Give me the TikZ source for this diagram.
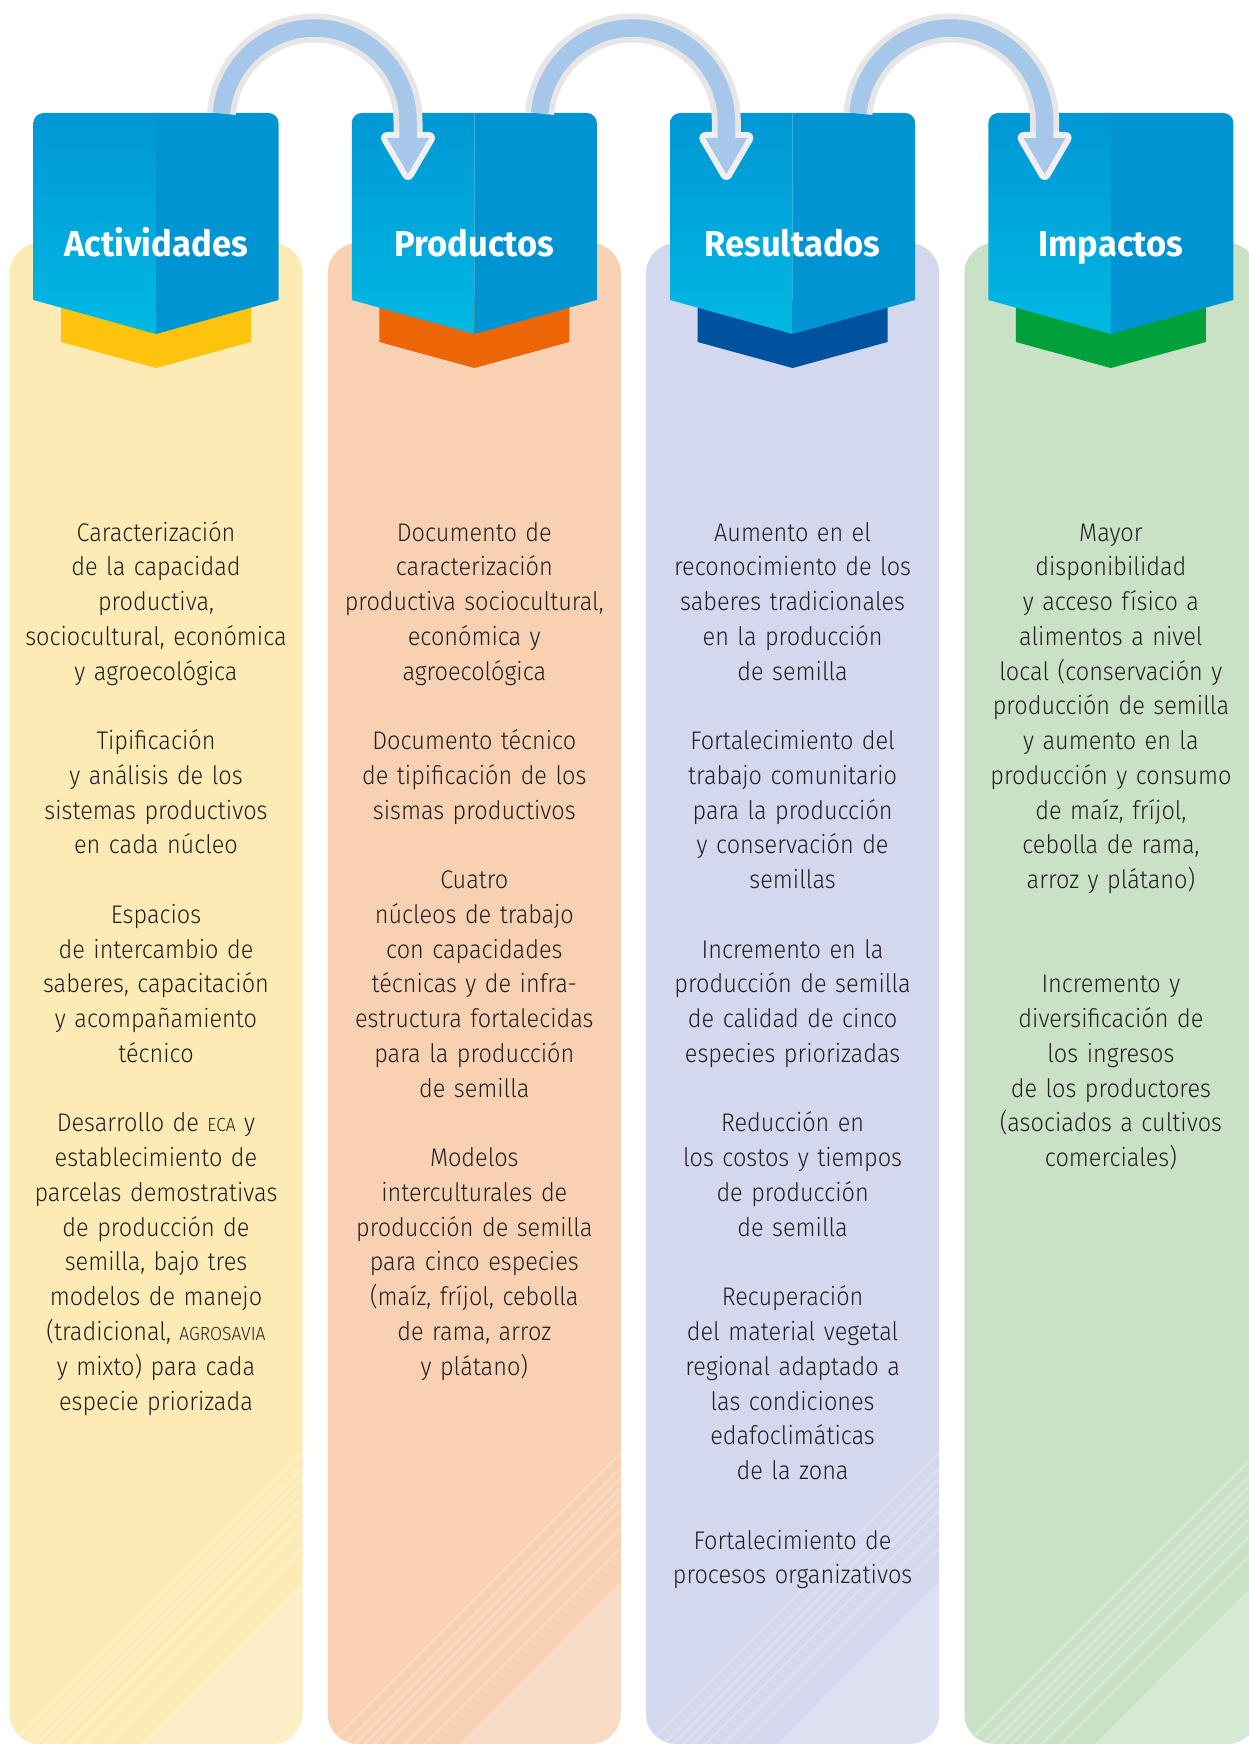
\documentclass[tikz,border=0pt]{standalone}
\usepackage{fontspec}
\usepackage{tikz}
\usetikzlibrary{calc}
\newfontfamily\bodyfont{Fira Sans}[UprightFont=* Light, FakeStretch=0.92]
\newfontfamily\titlefont{Fira Sans}[FakeStretch=0.96]

\definecolor{headtop}{HTML}{0097D4}
\definecolor{headbot}{HTML}{00B9E3}
\definecolor{headright}{HTML}{0095D2}
\definecolor{arrowblue}{HTML}{A7C7EA}
\definecolor{arrowrim}{HTML}{E6E6E6}
\definecolor{ink}{HTML}{231F20}
\definecolor{panelA}{HTML}{FDEBB5}
\definecolor{panelB}{HTML}{F8D1B3}
\definecolor{panelC}{HTML}{D4D8EE}
\definecolor{panelD}{HTML}{C9E2C6}
\definecolor{tabA}{HTML}{FDC30D}
\definecolor{tabB}{HTML}{EC6608}
\definecolor{tabC}{HTML}{00519E}
\definecolor{tabD}{HTML}{00A03B}

\tikzset{
  coltext/.style={text width=310pt, align=center, anchor=base, inner sep=0pt,
    text=ink, font=\bodyfont\fontsize{25.5}{34.76}\selectfont},
  coltitle/.style={anchor=base, inner sep=0pt, text=white,
    font=\titlefont\bfseries\fontsize{36}{40}\selectfont},
}
\newcommand\sigla[1]{{\fontsize{19}{34.76}\selectfont #1}}
\newcommand\gapline{\\[34.76pt]}

\begin{document}
\begin{tikzpicture}[x=1pt,y=-1pt]
\useasboundingbox (0,0) rectangle (1249,1744);
\clip (0,0) rectangle (1249,1744);

% columns: panel, coloured tab, blue header
\foreach \i/\pan/\tab/\name in {0/panelA/tabA/Actividades,1/panelB/tabB/Productos,
                                2/panelC/tabC/Resultados,3/panelD/tabD/Impactos}
{
  \pgfmathsetmacro\cx{156+318.3*\i}
  \fill[\pan, rounded corners=30pt] (\cx-146.5,243) rectangle (\cx+146.5,1744);
  \begin{scope}
    \clip[rounded corners=30pt] (\cx-146.5,243) rectangle (\cx+146.5,1744);
    \fill[white, opacity=.25] (\cx+146.5,1581) -- (\cx-16,1744) -- (\cx+146.5,1744) -- cycle;
    \foreach \o in {0,15,25,35,45,57,75,95}
      \draw[white, opacity=.2, line width=3] (\cx+146.5,1453+\o) -- ++(-330,330);
  \end{scope}
  \fill[\tab] (\cx-95,300) -- (\cx-95,342) -- (\cx,368) -- (\cx+95,342) -- (\cx+95,300) -- cycle;
  \shade[top color=headtop, bottom color=headbot] (\cx,334) -- (\cx-122.5,300) -- (\cx-122.5,123)
    arc[start angle=180, end angle=270, radius=10] -- (\cx,113) -- cycle;
  \fill[headright] (\cx,334) -- (\cx+122.5,300) -- (\cx+122.5,123)
    arc[start angle=360, end angle=270, radius=10] -- (\cx,113) -- cycle;
  \node[coltitle] (t\i) at (\cx,257) {\name};
}

% curved arrows between the headers
\foreach \i in {0,1,2}
{
  \pgfmathsetmacro\ax{156+318.3*\i+158.5}
  \draw[arrowrim, line width=29] (\ax,121.5) ++(185:93.5)
    arc[start angle=185, end angle=360, radius=93.5] -- ++(0,17);
  \filldraw[arrowrim!60!white, line width=12, line join=round]
    (\ax+72.5,138) -- (\ax+114.5,138) -- (\ax+93.5,174) -- cycle;
  \draw[arrowblue, line width=17.5] (\ax,121.5) ++(185:93.5)
    arc[start angle=185, end angle=360, radius=93.5] -- ++(0,17);
  \fill[arrowblue] (\ax+72.5,138) -- (\ax+114.5,138) -- (\ax+93.5,174) -- cycle;
}

\node[coltext] (act) at (156,541) {Caracterización\\de la capacidad\\productiva,\\sociocultural, económica\\y agroecológica\gapline
Tipificación\\y análisis de los\\sistemas productivos\\en cada núcleo\gapline
Espacios\\de intercambio de\\saberes, capacitación\\y acompañamiento\\técnico\gapline
Desarrollo de \sigla{ECA} y\\establecimiento de\\parcelas demostrativas\\de producción de\\semilla, bajo tres\\modelos de manejo\\(tradicional, \sigla{AGROSAVIA}\\y mixto) para cada\\especie priorizada};

\node[coltext] (prod) at (474.3,541) {Documento de\\caracterización\\productiva sociocultural,\\económica y\\agroecológica\gapline
Documento técnico\\de tipificación de los\\sismas productivos\gapline
Cuatro\\núcleos de trabajo\\con capacidades\\técnicas y de infra-\\estructura fortalecidas\\para la producción\\de semilla\gapline
Modelos\\interculturales de\\producción de semilla\\para cinco especies\\(maíz, fríjol, cebolla\\de rama, arroz\\y plátano)};

\node[coltext] (res) at (792.6,541) {Aumento en el\\reconocimiento de los\\saberes tradicionales\\en la producción\\de semilla\gapline
Fortalecimiento del\\trabajo comunitario\\para la producción\\y conservación de\\semillas\gapline
Incremento en la\\producción de semilla\\de calidad de cinco\\especies priorizadas\gapline
Reducción en\\los costos y tiempos\\de producción\\de semilla\gapline
Recuperación\\del material vegetal\\regional adaptado a\\las condiciones\\edafoclimáticas\\de la zona\gapline
Fortalecimiento de\\procesos organizativos};

\node[coltext] (imp) at (1110.9,541) {Mayor\\disponibilidad\\y acceso físico a\\alimentos a nivel\\local (conservación y\\producción de semilla\\y aumento en la\\producción y consumo\\de maíz, fríjol,\\cebolla de rama,\\arroz y plátano)\\[69.52pt]
Incremento y\\diversificación de\\los ingresos\\de los productores\\(asociados a cultivos\\comerciales)};
\end{tikzpicture}
\end{document}
